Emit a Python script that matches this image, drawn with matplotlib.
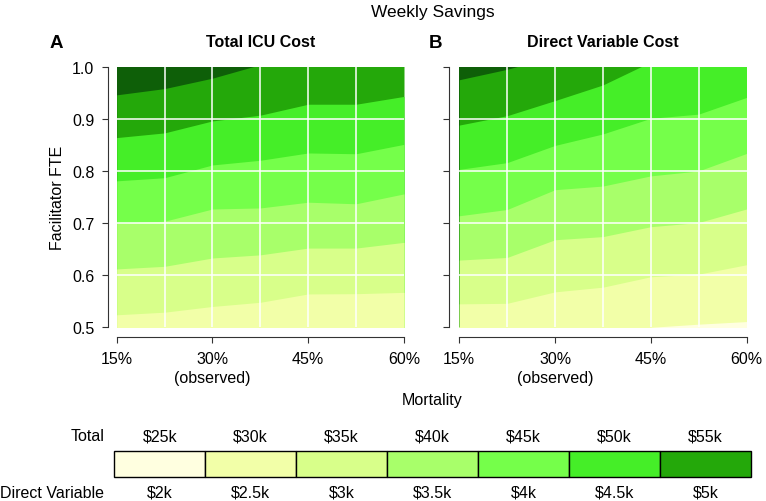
import matplotlib
matplotlib.use("Agg")
import matplotlib.pyplot as plt
from matplotlib.patches import Rectangle

plt.rcParams['font.family'] = ['Liberation Sans', 'DejaVu Sans']

# mortality grid (%), facilitator FTE axis
mortality = [15, 22.5, 30, 37.5, 45, 52.5, 60]

# contour boundaries: FTE where savings cross each level
# (values above 1.0 / below 0.5 are where the band leaves the panel)
total_bounds = {
    '60k': [0.946, 0.958, 0.978, 1.004, 1.03, 1.04, 1.05],
    '55k': [0.864, 0.873, 0.896, 0.907, 0.928, 0.928, 0.943],
    '50k': [0.781, 0.787, 0.8115, 0.8205, 0.8345, 0.833, 0.851],
    '45k': [0.700, 0.7035, 0.727, 0.729, 0.740, 0.737, 0.756],
    '40k': [0.612, 0.617, 0.633, 0.639, 0.652, 0.652, 0.663],
    '35k': [0.524, 0.529, 0.540, 0.548, 0.564, 0.5645, 0.567],
    '30k': [0.44, 0.44, 0.45, 0.46, 0.47, 0.47, 0.48],
}
direct_bounds = {
    '5.5k': [0.975, 0.995, 1.02, 1.04, 1.06, 1.08, 1.10],
    '5k': [0.888, 0.906, 0.935, 0.965, 1.009, 1.03, 1.05],
    '4.5k': [0.803, 0.816, 0.849, 0.871, 0.901, 0.909, 0.941],
    '4k': [0.714, 0.726, 0.764, 0.771, 0.7905, 0.800, 0.8335],
    '3.5k': [0.629, 0.634, 0.668, 0.674, 0.693, 0.701, 0.727],
    '3k': [0.545, 0.546, 0.568, 0.577, 0.597, 0.602, 0.620],
    '2.5k': [0.47, 0.475, 0.485, 0.492, 0.500, 0.506, 0.511],
}

legend_colors = ['#FFFFE0', '#F2FFA8', '#D8FF8A', '#A8FF6A', '#75FF4A', '#45EE28', '#24A80A']
top_color = '#0E5F08'
total_labels = ['$25k', '$30k', '$35k', '$40k', '$45k', '$50k', '$55k']
direct_labels = ['$2k', '$2.5k', '$3k', '$3.5k', '$4k', '$4.5k', '$5k']

FS = 11.5
W, H = 766, 502
fig = plt.figure(figsize=(W / 100, H / 100), dpi=100)

def px_axes(x0, y0, x1, y1):
    return fig.add_axes([x0 / W, 1 - y1 / H, (x1 - x0) / W, (y1 - y0) / H])

def draw_panel(ax, bounds, yoff, show_ylabels):
    ax.set_facecolor(top_color)
    # stack bands from darkest (top) down so no seams show
    cols = legend_colors[::-1]
    for b, c in zip(bounds.values(), cols):
        ax.fill_between(mortality, 0.3, b, color=c, linewidth=0)
    for xv in mortality[1:-1]:
        ax.axvline(xv, color='white', lw=1.1)
    for yv in [0.6, 0.7, 0.8, 0.9]:
        ax.axhline(yv, color='white', lw=1.1)
    ax.set_xlim(15, 60)
    ax.set_ylim(0.5, 1.0)
    for s in ['top', 'right']:
        ax.spines[s].set_visible(False)
    ax.spines['left'].set_position(('outward', yoff))
    ax.spines['bottom'].set_position(('outward', 7))
    ax.spines['left'].set_bounds(0.5, 1.0)
    ax.spines['bottom'].set_bounds(15, 60)
    for s in ['left', 'bottom']:
        ax.spines[s].set_color('#333333')
        ax.spines[s].set_linewidth(0.8)
    ax.set_xticks([15, 30, 45, 60])
    ax.set_xticklabels(['15%', '30%\n(observed)', '45%', '60%'], linespacing=1.3)
    ax.set_yticks([0.5, 0.6, 0.7, 0.8, 0.9, 1.0])
    if show_ylabels:
        ax.set_yticklabels(['0.5', '0.6', '0.7', '0.8', '0.9', '1.0'])
    else:
        ax.set_yticklabels([])
    ax.tick_params(axis='both', length=4, width=0.8, color='#333333', labelsize=FS, pad=6)
    ax.tick_params(axis='x', pad=6)

axA = px_axes(116.7, 67.7, 404, 328.3)
draw_panel(axA, total_bounds, 6, True)
axA.set_ylabel('Facilitator FTE', fontsize=FS, labelpad=5)
axA.set_title('Total ICU Cost', fontsize=FS, fontweight='bold', pad=15)

axB = px_axes(459.3, 67.7, 746.5, 328.3)
draw_panel(axB, direct_bounds, 7.2, False)
axB.set_title('Direct Variable Cost', fontsize=FS, fontweight='bold', pad=15)

fig.text(56 / W, 1 - 43.5 / H, 'A', fontsize=13.5, fontweight='bold', ha='center', va='center')
fig.text(435 / W, 1 - 43.5 / H, 'B', fontsize=13.5, fontweight='bold', ha='center', va='center')
fig.text(432.5 / W, 1 - 12 / H, 'Weekly Savings', fontsize=12.5, ha='center', va='center')
fig.text(432.5 / W, 1 - 401 / H, 'Mortality', fontsize=FS, ha='center', va='center')

# legend strip
axL = px_axes(114.3, 451.7, 751, 478.3)
axL.set_xlim(0, 7)
axL.set_ylim(0, 1)
axL.axis('off')
for i, c in enumerate(legend_colors):
    axL.add_patch(Rectangle((i, 0), 1, 1, facecolor=c, edgecolor='black', lw=1.0, clip_on=False))
    axL.text(i + 0.5, 1.56, total_labels[i], ha='center', va='center', fontsize=FS)
    axL.text(i + 0.5, -0.56, direct_labels[i], ha='center', va='center', fontsize=FS)
axL.text(-0.11, 1.56, 'Total', ha='right', va='center', fontsize=FS)
axL.text(-0.11, -0.56, 'Direct Variable', ha='right', va='center', fontsize=FS)

fig.savefig('out.png', dpi=100)
